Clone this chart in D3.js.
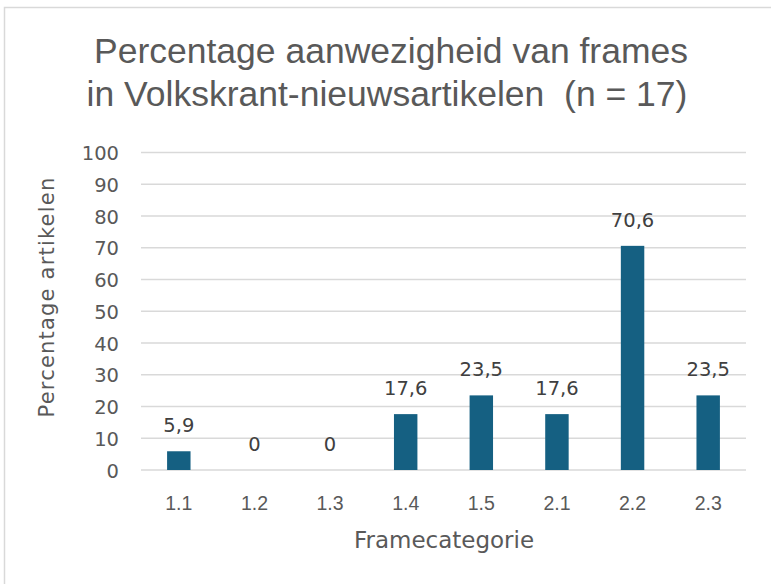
<!DOCTYPE html>
<html>
<head>
<meta charset="utf-8">
<script src="https://cdn.jsdelivr.net/npm/d3@7"></script>
<style>
  body { margin: 0; background: #fff; }
</style>
</head>
<body>
<script>
// Data
const categories = ["1.1", "1.2", "1.3", "1.4", "1.5", "2.1", "2.2", "2.3"];
const percentages = [5.9, 0, 0, 17.6, 23.5, 17.6, 70.6, 23.5];
const yTicks = [0, 10, 20, 30, 40, 50, 60, 70, 80, 90, 100];

const wide = "'DejaVu Sans', Verdana, sans-serif";
const regular = "'Liberation Sans', Arial, sans-serif";

const svg = d3.select("body").append("svg")
    .attr("width", 771)
    .attr("height", 584);

// Kader
svg.append("rect")
    .attr("x", 4.5)
    .attr("y", 7.5)
    .attr("width", 800)
    .attr("height", 600)
    .attr("fill", "#fff")
    .attr("stroke", "#d9d9d9")
    .attr("stroke-width", 1.5);

// Schalen
const x = d3.scaleBand()
    .domain(categories)
    .range([141, 746])
    .paddingInner(0.69)
    .paddingOuter(0.345);

const y = d3.scaleLinear()
    .domain([0, 100])
    .range([470, 152.5]);

// Rasterlijnen
svg.append("g")
    .selectAll("line")
    .data(yTicks)
    .join("line")
    .attr("x1", 141)
    .attr("x2", 746)
    .attr("y1", d => y(d))
    .attr("y2", d => y(d))
    .attr("stroke", "#d9d9d9")
    .attr("stroke-width", 1.5);

// Y-as
const yAxis = svg.append("g")
    .attr("transform", "translate(119,0)")
    .call(d3.axisLeft(y).tickValues(yTicks).tickSize(0).tickPadding(0));
yAxis.select(".domain").remove();
yAxis.selectAll("text")
    .attr("font-family", wide)
    .attr("font-size", 19.5)
    .attr("fill", "#595959")
    .attr("dy", "0.36em");

// X-as
const xAxis = svg.append("g")
    .attr("transform", "translate(0,470)")
    .call(d3.axisBottom(x).tickSize(0).tickPadding(0));
xAxis.select(".domain").remove();
xAxis.selectAll("text")
    .attr("font-family", regular)
    .attr("font-size", 19.5)
    .attr("fill", "#595959")
    .attr("dy", 40);

// Staven
svg.append("g")
    .selectAll("rect")
    .data(percentages)
    .join("rect")
    .attr("x", (d, i) => x(categories[i]))
    .attr("y", d => y(d))
    .attr("width", x.bandwidth())
    .attr("height", d => y(0) - y(d))
    .attr("fill", "#156082");

// Labels boven de staven
svg.append("g")
    .selectAll("text")
    .data(percentages)
    .join("text")
    .attr("x", (d, i) => x(categories[i]) + x.bandwidth() / 2)
    .attr("y", d => y(d) - 19)
    .attr("text-anchor", "middle")
    .attr("font-family", wide)
    .attr("font-size", 19.5)
    .attr("fill", "#404040")
    .text(d => String(d).replace(".", ","));

// Titel
const title = svg.append("text")
    .attr("text-anchor", "middle")
    .attr("font-family", regular)
    .attr("font-size", 35.5)
    .attr("fill", "#595959")
    .style("white-space", "pre");
title.append("tspan").attr("x", 391).attr("y", 63).text("Percentage aanwezigheid van frames");
title.append("tspan").attr("x", 387).attr("y", 106).text("in Volkskrant-nieuwsartikelen  (n = 17)");

// Astitels
svg.append("text")
    .attr("x", 444)
    .attr("y", 548)
    .attr("text-anchor", "middle")
    .attr("font-family", wide)
    .attr("font-size", 23)
    .attr("fill", "#595959")
    .text("Framecategorie");

svg.append("text")
    .attr("transform", "translate(54,297) rotate(-90)")
    .attr("text-anchor", "middle")
    .attr("font-family", wide)
    .attr("font-size", 21)
    .attr("letter-spacing", 1.2)
    .attr("fill", "#595959")
    .text("Percentage artikelen");
</script>
</body>
</html>
